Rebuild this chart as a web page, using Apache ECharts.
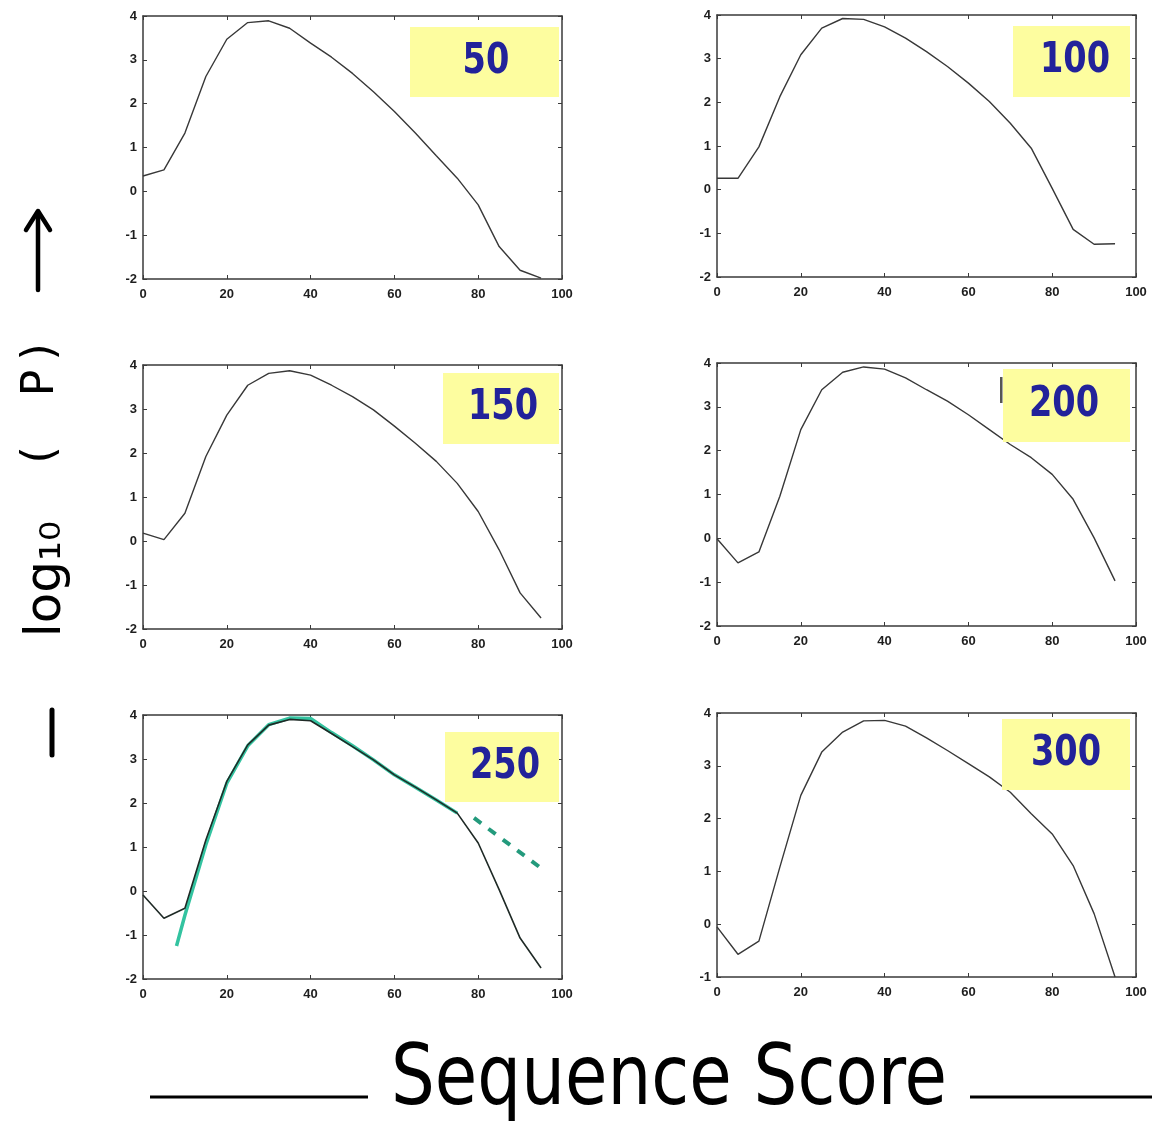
<!DOCTYPE html>
<html>
<head>
<meta charset="utf-8">
<script src="https://cdn.jsdelivr.net/npm/echarts@6/dist/echarts.min.js"></script>
<style>
html,body{margin:0;padding:0;background:#fff;}
#chart{width:1152px;height:1139px;}
</style>
</head>
<body>
<div id="chart"></div>
<script>
// ---- data ----
const scores = [0,5,10,15,20,25,30,35,40,45,50,55,60,65,70,75,80,85,90,95];
const len50  = [0.35,0.49,1.33,2.62,3.47,3.85,3.89,3.72,3.38,3.06,2.69,2.27,1.82,1.33,0.81,0.30,-0.31,-1.26,-1.80,-1.98];
const len100 = [0.26,0.26,0.98,2.13,3.09,3.70,3.92,3.90,3.73,3.47,3.16,2.82,2.44,2.02,1.52,0.95,0.03,-0.91,-1.25,-1.24];
const len150 = [0.18,0.03,0.63,1.92,2.86,3.54,3.81,3.87,3.77,3.54,3.28,2.98,2.61,2.22,1.81,1.31,0.67,-0.20,-1.18,-1.75];
const len200 = [-0.01,-0.56,-0.31,0.96,2.48,3.39,3.79,3.91,3.86,3.66,3.39,3.13,2.82,2.48,2.14,1.84,1.46,0.89,0.01,-0.97];
const len250 = [-0.09,-0.62,-0.39,1.16,2.49,3.32,3.77,3.90,3.87,3.58,3.28,2.98,2.64,2.36,2.07,1.77,1.09,0.03,-1.07,-1.75];
const len300 = [-0.05,-0.57,-0.32,1.08,2.44,3.26,3.64,3.85,3.86,3.75,3.53,3.29,3.04,2.79,2.50,2.09,1.71,1.11,0.20,-1.00];
const fit250X = [8,10,15,20,25,30,35,40,45,50,55,60,65,70,75];
const fit250Y = [-1.25,-0.55,1.05,2.45,3.30,3.78,3.93,3.92,3.60,3.30,2.98,2.64,2.36,2.07,1.77];
const extrap250X = [79,95];
const extrap250Y = [1.66,0.52];
const panelLabels = ['50','100','150','200','250','300'];
const panelSeries = [len50,len100,len150,len200,len250,len300];
const yMins = [-2,-2,-2,-2,-2,-1];
const yMax = 4;
const xTitle = 'Sequence Score';

// ---- layout ----
const grids = [
  {left:143, top:16,  width:419, height:263},
  {left:717, top:15,  width:419, height:262},
  {left:143, top:365, width:419, height:264},
  {left:717, top:363, width:419, height:263},
  {left:143, top:715, width:419, height:264},
  {left:717, top:713, width:419, height:264}
];
const boxes = [
  {x:410, y:27,  w:149, h:70, tx:486},
  {x:1013,y:26,  w:117, h:71, tx:1075},
  {x:443, y:373, w:116, h:71, tx:503},
  {x:1003,y:369, w:127, h:73, tx:1064},
  {x:445, y:732, w:114, h:70, tx:505},
  {x:1002,y:719, w:128, h:71, tx:1066}
];

const axisColor = '#3a3a3a';
const labelStyle = {color:'#1e1e1e', fontSize:13, fontWeight:'bold', fontFamily:'Liberation Sans, Arial, sans-serif'};

const xAxes = [], yAxes = [], series = [];
grids.forEach((g,i)=>{
  const common = {gridIndex:i, type:'value', splitLine:{show:false},
    axisLine:{show:true, onZero:false, lineStyle:{color:axisColor, width:1.5}},
    axisTick:{show:true, inside:true, length:4, lineStyle:{color:axisColor, width:1}}};
  xAxes.push(Object.assign({}, common, {position:'bottom', min:0, max:100, interval:20,
    axisLabel:Object.assign({margin:9}, labelStyle)}));
  xAxes.push(Object.assign({}, common, {position:'top', min:0, max:100, interval:20, axisLabel:{show:false}}));
  yAxes.push(Object.assign({}, common, {position:'left', min:yMins[i], max:yMax, interval:1,
    axisLabel:Object.assign({margin:6}, labelStyle)}));
  yAxes.push(Object.assign({}, common, {position:'right', min:yMins[i], max:yMax, interval:1, axisLabel:{show:false}}));
});

function zip(xs, ys){ return xs.map((x,k)=>[x, ys[k]]); }

// green fit under the black curve in panel 250
series.push({type:'line', xAxisIndex:8, yAxisIndex:8, data:zip(fit250X, fit250Y), showSymbol:false,
  lineStyle:{color:'#33c3a0', width:3.5}, z:2, silent:true});
series.push({type:'line', xAxisIndex:8, yAxisIndex:8, data:zip(extrap250X, extrap250Y), showSymbol:false,
  lineStyle:{color:'#239a7c', width:4, type:[9,9]}, z:2, silent:true});

panelSeries.forEach((ys,i)=>{
  series.push({type:'line', name:panelLabels[i], xAxisIndex:2*i, yAxisIndex:2*i, data:zip(scores, ys),
    showSymbol:false, lineStyle:{color: i===4 ? '#1f2a26' : '#383838', width: i===4 ? 1.6 : 1.4}, z:3, silent:true});
});

// measure text for scaling
const mctx = document.createElement('canvas').getContext('2d');
function measure(txt, font){ mctx.font = font; return mctx.measureText(txt).width; }

const titleFont = '84px "DejaVu Sans"';
const titleScale = 556 / measure(xTitle, titleFont);

const graphic = [];
boxes.forEach((b,i)=>{
  graphic.push({type:'rect', shape:{x:b.x, y:b.y, width:b.w, height:b.h}, style:{fill:'#fdfd9f'}, z:10});
  const f = 'bold 42px "DejaVu Sans"';
  graphic.push({type:'text', x:b.tx, y:b.y + b.h/2, scaleX:0.8,
    style:{text:panelLabels[i], font:f, fill:'#22229a', textAlign:'center', textVerticalAlign:'middle'}, z:11});
});
// small dark mark left of the 200 box
graphic.push({type:'rect', shape:{x:1000, y:377, width:2.5, height:26}, style:{fill:'#555'}, z:11});

// X title with dashes
graphic.push({type:'line', shape:{x1:150, y1:1097, x2:368, y2:1097}, style:{stroke:'#000', lineWidth:3}});
graphic.push({type:'line', shape:{x1:970, y1:1097, x2:1152, y2:1097}, style:{stroke:'#000', lineWidth:3}});
graphic.push({type:'text', x:669, y:1082, scaleX:titleScale,
  style:{text:xTitle, font:titleFont, fill:'#000', textAlign:'center', textVerticalAlign:'middle'}});

// Y title pieces (rotated, reading bottom to top)
const yFont = '44px "DejaVu Sans"';
graphic.push({type:'line', shape:{x1:52, y1:710, x2:52, y2:755}, style:{stroke:'#000', lineWidth:5, lineCap:'round'}});
graphic.push({type:'text', x:47, y:579, rotation:Math.PI/2,
  style:{text:'log\u2081\u2080', font:'50px "DejaVu Sans"', fill:'#000', textAlign:'center', textVerticalAlign:'middle'}});
graphic.push({type:'text', x:42, y:455, rotation:Math.PI/2,
  style:{text:'(', font:yFont, fill:'#000', textAlign:'center', textVerticalAlign:'middle'}});
graphic.push({type:'text', x:42, y:383, rotation:Math.PI/2,
  style:{text:'P', font:yFont, fill:'#000', textAlign:'center', textVerticalAlign:'middle'}});
graphic.push({type:'text', x:42, y:352, rotation:Math.PI/2,
  style:{text:')', font:yFont, fill:'#000', textAlign:'center', textVerticalAlign:'middle'}});
graphic.push({type:'polyline', shape:{points:[[38,290],[38,212]]}, style:{stroke:'#000', lineWidth:4.5, lineCap:'round'}});
graphic.push({type:'polyline', shape:{points:[[26,230],[38,211],[50,230]]}, style:{stroke:'#000', lineWidth:4.5, lineCap:'round', lineJoin:'round', fill:null}});

const chart = echarts.init(document.getElementById('chart'), null, {renderer:'canvas'});
chart.setOption({
  animation:false,
  backgroundColor:'#ffffff',
  grid: grids.map(g=>Object.assign({containLabel:false, show:false}, g)),
  xAxis: xAxes,
  yAxis: yAxes,
  series: series,
  graphic: graphic
});
</script>
</body>
</html>
